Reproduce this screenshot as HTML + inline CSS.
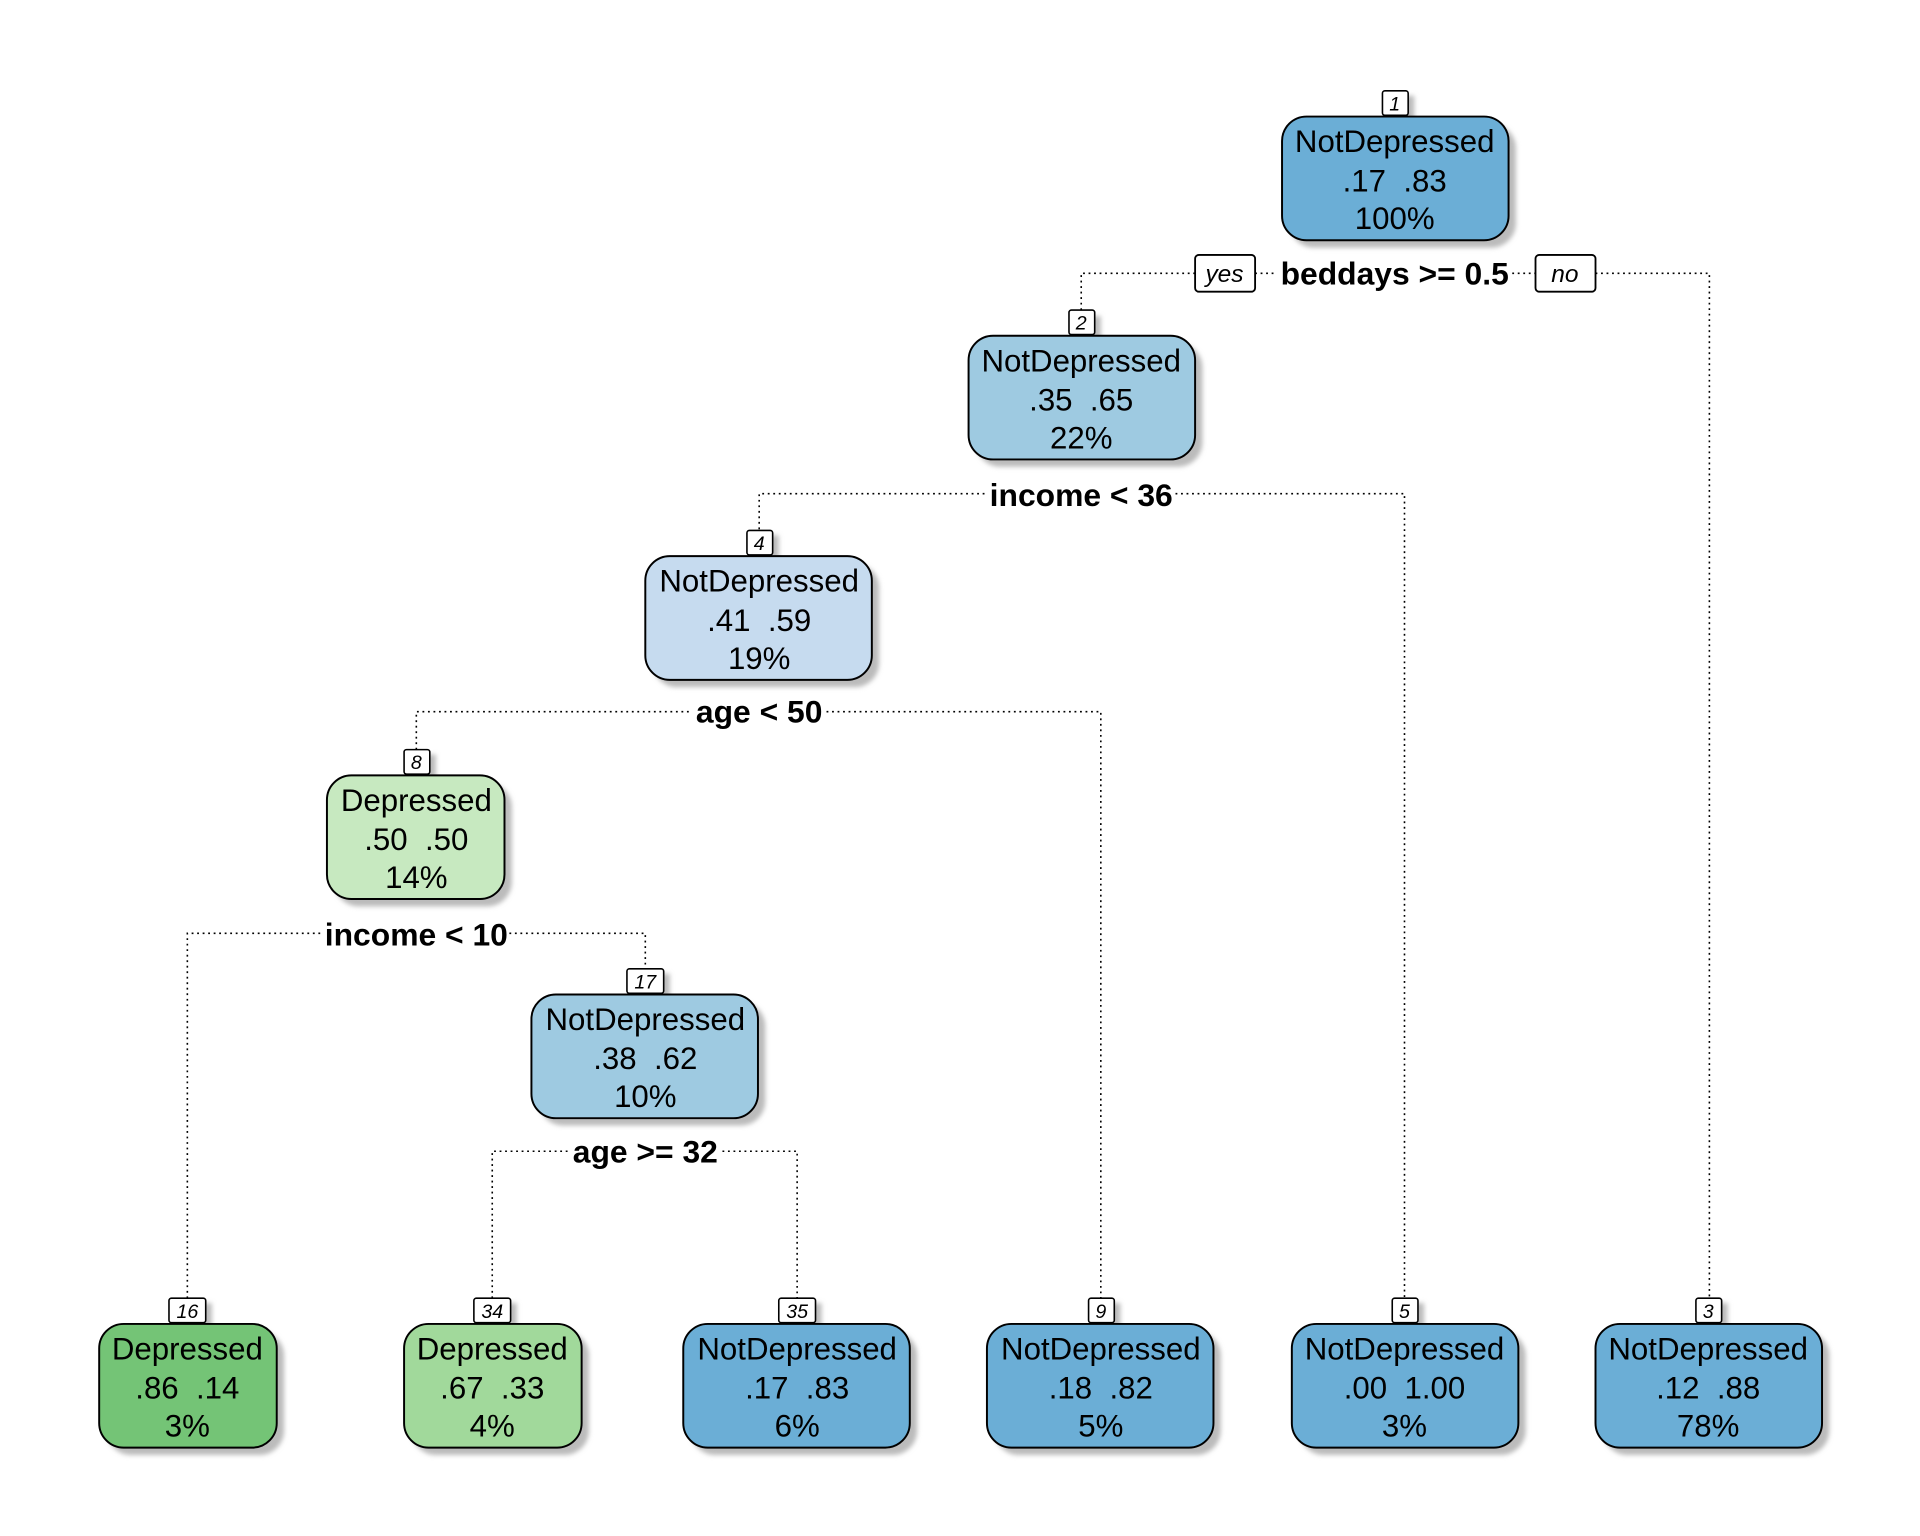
<!DOCTYPE html>
<html><head><meta charset="utf-8"><style>html,body{margin:0;padding:0;background:#fff}svg{display:block}text{white-space:pre}</style></head>
<body>
<svg width="1920" height="1536" viewBox="0 0 1568 1254" xmlns="http://www.w3.org/2000/svg" font-family="Liberation Sans, Arial, sans-serif">
<defs>
<filter id="b" x="-20%" y="-20%" width="140%" height="140%"><feGaussianBlur stdDeviation="2"/></filter>
</defs>
<g stroke="#000" stroke-width="1.3" stroke-dasharray="1.5,3" fill="none">
<path d="M883 253V223H976M1025 223H1043M1235 223H1254M1303 223H1396V1060"/>
<path d="M620 432V403H805M960 403H1147V1060"/>
<path d="M340 612V581H565M675 581H899V1060"/>
<path d="M153 1060V762H262M416 762H527V791"/>
<path d="M402 1060V940H464M590 940H651V1060"/>
</g>
<g fill="#bbb" filter="url(#b)">
<rect x="1053" y="101" width="185" height="101" rx="20"/>
<rect x="797" y="280" width="185" height="101" rx="20"/>
<rect x="533" y="460" width="185" height="101" rx="20"/>
<rect x="273" y="639" width="145" height="101" rx="20"/>
<rect x="440" y="818" width="185" height="101" rx="20"/>
<rect x="87" y="1087" width="145" height="101" rx="20"/>
<rect x="336" y="1087" width="145" height="101" rx="20"/>
<rect x="564" y="1087" width="185" height="101" rx="20"/>
<rect x="812" y="1087" width="185" height="101" rx="20"/>
<rect x="1061" y="1087" width="185" height="101" rx="20"/>
<rect x="1309" y="1087" width="185" height="101" rx="20"/>
<rect x="1134" y="78" width="21" height="20"/>
<rect x="878" y="258" width="21" height="20"/>
<rect x="615" y="437" width="21" height="20"/>
<rect x="335" y="616" width="21" height="20"/>
<rect x="517" y="795" width="30" height="20"/>
<rect x="143" y="1064" width="30" height="20"/>
<rect x="392" y="1064" width="30" height="20"/>
<rect x="641" y="1064" width="30" height="20"/>
<rect x="894" y="1064" width="21" height="20"/>
<rect x="1142" y="1064" width="21" height="20"/>
<rect x="1390" y="1064" width="21" height="20"/>
</g>
<g stroke="#000" stroke-width="1.6">
<rect x="1047" y="95" width="185" height="101" rx="20" fill="#6baed6"/>
<rect x="791" y="274" width="185" height="101" rx="20" fill="#9ecae1"/>
<rect x="527" y="454" width="185" height="101" rx="20" fill="#c6dbef"/>
<rect x="267" y="633" width="145" height="101" rx="20" fill="#c7e9c0"/>
<rect x="434" y="812" width="185" height="101" rx="20" fill="#9ecae1"/>
<rect x="81" y="1081" width="145" height="101" rx="20" fill="#74c476"/>
<rect x="330" y="1081" width="145" height="101" rx="20" fill="#a1d99b"/>
<rect x="558" y="1081" width="185" height="101" rx="20" fill="#6baed6"/>
<rect x="806" y="1081" width="185" height="101" rx="20" fill="#6baed6"/>
<rect x="1055" y="1081" width="185" height="101" rx="20" fill="#6baed6"/>
<rect x="1303" y="1081" width="185" height="101" rx="20" fill="#6baed6"/>
</g>
<g stroke="#000" stroke-width="1.3" fill="#fff">
<rect x="1129" y="74" width="21" height="20" rx="2"/>
<rect x="873" y="253" width="21" height="20" rx="2"/>
<rect x="610" y="433" width="21" height="20" rx="2"/>
<rect x="330" y="612" width="21" height="20" rx="2"/>
<rect x="512" y="791" width="30" height="20" rx="2"/>
<rect x="138" y="1060" width="30" height="20" rx="2"/>
<rect x="387" y="1060" width="30" height="20" rx="2"/>
<rect x="636" y="1060" width="30" height="20" rx="2"/>
<rect x="889" y="1060" width="21" height="20" rx="2"/>
<rect x="1137" y="1060" width="21" height="20" rx="2"/>
<rect x="1385" y="1060" width="21" height="20" rx="2"/>
</g>
<g font-size="16" font-style="italic" text-anchor="middle">
<text x="1139" y="90">1</text><text x="883" y="269">2</text><text x="620" y="449">4</text><text x="340" y="628">8</text>
<text x="527" y="807">17</text><text x="153" y="1076">16</text><text x="402" y="1076">34</text><text x="651" y="1076">35</text>
<text x="899" y="1076">9</text><text x="1147" y="1076">5</text><text x="1395" y="1076">3</text>
</g>
<g font-size="25.5" text-anchor="middle">
<text x="1139" y="124">NotDepressed</text><text x="1139" y="156">.17&#160;&#160;.83</text><text x="1139" y="187">100%</text>
<text x="883" y="303">NotDepressed</text><text x="883" y="335">.35&#160;&#160;.65</text><text x="883" y="366">22%</text>
<text x="620" y="483">NotDepressed</text><text x="620" y="515">.41&#160;&#160;.59</text><text x="620" y="546">19%</text>
<text x="340" y="662">Depressed</text><text x="340" y="694">.50&#160;&#160;.50</text><text x="340" y="725">14%</text>
<text x="527" y="841">NotDepressed</text><text x="527" y="873">.38&#160;&#160;.62</text><text x="527" y="904">10%</text>
<text x="153" y="1110">Depressed</text><text x="153" y="1142">.86&#160;&#160;.14</text><text x="153" y="1173">3%</text>
<text x="402" y="1110">Depressed</text><text x="402" y="1142">.67&#160;&#160;.33</text><text x="402" y="1173">4%</text>
<text x="651" y="1110">NotDepressed</text><text x="651" y="1142">.17&#160;&#160;.83</text><text x="651" y="1173">6%</text>
<text x="899" y="1110">NotDepressed</text><text x="899" y="1142">.18&#160;&#160;.82</text><text x="899" y="1173">5%</text>
<text x="1147" y="1110">NotDepressed</text><text x="1147" y="1142">.00&#160;&#160;1.00</text><text x="1147" y="1173">3%</text>
<text x="1395" y="1110">NotDepressed</text><text x="1395" y="1142">.12&#160;&#160;.88</text><text x="1395" y="1173">78%</text>
</g>
<g font-size="26" font-weight="bold" text-anchor="middle" fill="#000">
<text x="1139" y="232">beddays &gt;= 0.5</text>
<text x="883" y="413">income &lt; 36</text>
<text x="620" y="590">age &lt; 50</text>
<text x="340" y="772">income &lt; 10</text>
<text x="527" y="949">age &gt;= 32</text>
</g>
<g font-size="20" font-style="italic" text-anchor="middle">
<rect x="976" y="208" width="49" height="30" rx="3" fill="#fff" stroke="#000" stroke-width="1.5"/><text x="1000" y="230">yes</text>
<rect x="1254" y="208" width="49" height="30" rx="3" fill="#fff" stroke="#000" stroke-width="1.5"/><text x="1278" y="230">no</text>
</g>
</svg>
</body></html>
